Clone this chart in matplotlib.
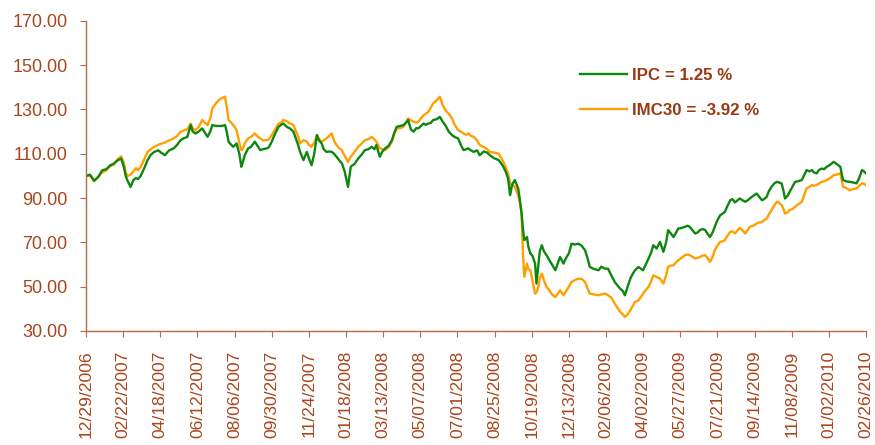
import numpy as np
import pandas as pd
import matplotlib
matplotlib.use("Agg")
import matplotlib.pyplot as plt
import matplotlib.dates as mdates

# días naturales desde el 29/12/2006 y valores base 100
start = "2006-12-29"
days = [0, 6, 12, 18, 24, 30, 36, 41, 47, 52, 56, 59, 62, 66, 70, 74, 77, 81, 87, 91,
        96, 101, 107, 111, 117, 123, 130, 135, 140, 145, 150, 155, 158, 162, 167, 172, 176, 180, 184, 187,
        193, 197, 201, 206, 209, 211, 215, 218, 223, 227, 230, 232, 235, 240, 244, 250, 255, 258, 262, 268,
        271, 275, 280, 285, 289, 292, 298, 302, 307, 309, 314, 317, 322, 327, 330, 334, 338, 342, 345, 349,
        352, 356, 360, 364, 367, 371, 375, 379, 383, 388, 392, 398, 403, 408, 413, 418, 423, 427, 430, 435,
        439, 443, 448, 453, 456, 460, 465, 470, 474, 477, 481, 485, 489, 492, 496, 500, 503, 507, 511, 514,
        519, 524, 528, 532, 537, 542, 546, 551, 555, 559, 563, 566, 570, 574, 579, 583, 589, 594, 598, 604,
        611, 615, 618, 622, 625, 628, 631, 635, 640, 643, 645, 647, 649, 653, 655, 658, 661, 665, 667, 670,
        672, 675, 678, 682, 686, 690, 695, 698, 702, 707, 711, 715, 719, 724, 729, 734, 739, 743, 746, 752,
        759, 763, 769, 773, 778, 783, 787, 791, 795, 798, 802, 806, 809, 813, 818, 822, 825, 829, 833, 837,
        840, 845, 850, 855, 859, 862, 866, 870, 874, 877, 882, 887, 891, 894, 898, 902, 906, 909, 913, 917,
        920, 924, 928, 931, 935, 939, 943, 946, 950, 954, 957, 961, 965, 968, 972, 976, 980, 983, 988, 993,
        997, 1001, 1004, 1008, 1011, 1015, 1019, 1023, 1026, 1030, 1033, 1035, 1039, 1042, 1046, 1050, 1054, 1060, 1063, 1067,
        1071, 1075, 1078, 1082, 1085, 1089, 1093, 1097, 1102, 1107, 1111, 1117, 1121, 1126, 1131, 1136, 1141, 1145, 1149, 1152,
        1155]

ipc = [100, 100.5, 97.8, 99.5, 102.5, 103, 104.8, 105.5, 107, 107.8, 104, 99.7, 97.5, 95.0, 98, 99, 98.5, 100, 104, 107,
       109.5, 110.8, 111.5, 110.5, 109.3, 111.5, 112.4, 114, 116.1, 117, 117.5, 122.9, 120, 119.1, 120, 121.4, 119.5, 117.6, 120, 122.9,
       122.5, 122.5, 122.5, 122.9, 119, 115.4, 114, 113.1, 114.6, 110, 104.1, 106, 109.3, 112.4, 113, 115.4, 113, 111.6, 112, 112.4,
       113, 115.4, 119, 122.1, 123, 123.6, 122, 121.4, 120, 118.4, 114, 110.8, 107.1, 110.8, 108, 104.8, 110, 118.4, 116, 114.6,
       112, 110.8, 111, 110.8, 110, 108.6, 107, 105.6, 102, 95.0, 104.1, 105.5, 107.8, 109.5, 111.6, 112, 113.1, 112, 113.9, 108.6,
       111, 112.4, 113.5, 116.1, 119, 122.1, 122.5, 122.9, 124, 125.2, 121, 119.9, 121.5, 121.4, 122.5, 123.6, 123, 123.6, 124, 125.2,
       125.5, 126.6, 124.5, 122.9, 120, 118.4, 117.5, 116.9, 114, 111.6, 112, 112.4, 111.5, 110.8, 111.5, 109.3, 111, 110.5, 109.3, 108,
       107.1, 105.5, 104.1, 101.5, 98.8, 91.3, 96, 98.1, 94.3, 88, 83.0, 76, 71.0, 72.4, 68, 65, 64, 60.4, 51.4, 60,
       66, 68.7, 66, 64.2, 62, 60, 57.4, 60, 63.4, 60.4, 63, 65, 69.4, 69, 69.4, 68.5, 66.4, 62.5, 58.9, 58,
       57.4, 59, 58.1, 58.1, 55, 52.1, 50.5, 49.1, 48, 46.1, 50, 53.6, 55.5, 57.4, 58.9, 58, 57.4, 60, 62.7, 65.5,
       68.7, 67.2, 70.2, 65.7, 70, 75.5, 74, 72.4, 74.5, 76.2, 76.5, 77, 77.5, 77, 75.5, 74, 74.5, 75.5, 76, 75.5,
       74, 72.4, 74.5, 77, 80, 82.2, 83, 83.7, 86.5, 89, 89.5, 88, 89, 89.8, 89, 88.3, 89, 89.8, 91, 92.0,
       90.5, 89, 89.5, 90.5, 93, 95, 96.5, 97.3, 97, 96.6, 93, 89.8, 91, 92.8, 95, 97.3, 97.5, 98.1, 100, 102.6,
       102, 102.6, 101.5, 101.1, 102.5, 103.3, 103, 104.1, 105, 106.3, 105.5, 104.1, 98.1, 97.5, 97.3, 97, 96.6, 99, 102.6, 102,
       101.1]

imc30 = [100, 100, 97.5, 99.5, 101.5, 102.5, 104.5, 105, 107.5, 108.8, 106, 101.2, 100, 100.5, 102, 103.5, 102.5, 104, 108, 110.8,
         112, 113.1, 114, 114.5, 115, 116, 116.9, 118, 119.9, 120.5, 121, 123.6, 121.5, 120.6, 122, 125.2, 124, 122.9, 126, 130.4,
         133, 134.2, 135, 135.7, 130, 125.2, 124, 122.9, 120.6, 115, 111.6, 112, 114.6, 116.9, 117.5, 119.1, 117.5, 116.9, 116, 116.1,
         116.5, 118.4, 121, 123.6, 124, 125.2, 124.5, 123.6, 123, 121.4, 118, 114.6, 116.1, 115.4, 114, 113.1, 115, 118.4, 116.5, 115.4,
         116, 116.9, 118, 119.1, 116, 113.9, 112.5, 111.6, 109, 106.3, 108.6, 111, 113.1, 114.5, 116.1, 116.5, 117.6, 116.5, 115.4, 112.4,
         112, 111.6, 113, 115.4, 118.5, 121.4, 121.5, 122.1, 124, 125.9, 125, 124.4, 124, 124.4, 126, 127.4, 128, 128.9, 131, 132.7,
         134, 135.7, 132, 129.7, 128, 125.9, 123, 120.6, 120, 119.1, 118.5, 119.1, 118, 117.6, 116, 113.9, 113, 112, 110.8, 110.5,
         110, 108, 106.3, 103.5, 101.1, 96.6, 96, 95.0, 91.3, 87, 83.0, 65, 54.4, 60.4, 58, 57.4, 53, 46.9, 47.5, 50,
         54, 55.9, 53, 49.9, 48.5, 46.5, 45.3, 46.5, 48.4, 46.1, 48, 50, 52.1, 53, 53.6, 53.5, 52.1, 49, 46.9, 46.5,
         46.1, 46.5, 46.9, 46.1, 45, 42.3, 40.5, 38.6, 37.5, 36.3, 37.5, 39.3, 41, 43.1, 43.8, 45.5, 46.9, 48.5, 49.9, 52.5,
         55.1, 54.4, 53.6, 51.4, 55, 58.9, 59.5, 59.7, 61, 61.9, 63, 64.2, 64.5, 64.2, 63.5, 62.7, 63, 63.4, 64, 64.2,
         63, 61.2, 63.5, 66.4, 68.5, 70.2, 70.5, 71, 73, 74.7, 75, 74, 75.5, 76.5, 75.5, 74, 75.5, 77, 77.5, 78.5,
         79, 79.2, 80, 80.7, 82.5, 84.5, 86.5, 88.3, 88, 86.8, 85, 83.0, 83.5, 84.5, 85, 86, 87, 88.3, 91, 94.3,
         95, 95.8, 95.5, 95.8, 96.5, 97.3, 97.5, 98.1, 99, 100.3, 100.5, 101.1, 95, 94.5, 93.5, 94, 94.3, 95.5, 96.6, 96.5,
         95.8]

labels = ["IPC = 1.25 %", "IMC30 = -3.92 %"]
tick_step_days = 55
n_ticks = 22

plt.rcParams['font.family'] = ['Liberation Sans', 'DejaVu Sans']
brown = '#A8451C'
axis_col = '#B86A44'

dates = pd.to_datetime(start) + pd.to_timedelta(days, unit='D')

fig = plt.figure(figsize=(8.75, 4.45), dpi=100)
ax = fig.add_axes([0.0983, 0.2562, 0.8914, 0.6973])

l2, = ax.plot(dates, imc30, color='#FFA000', lw=1.7, label=labels[1])
l1, = ax.plot(dates, ipc, color='#0E870E', lw=1.7, label=labels[0])

ax.set_ylim(30, 170)
ax.set_yticks(np.arange(30, 171, 20))
ax.yaxis.set_major_formatter(matplotlib.ticker.FormatStrFormatter('%.2f'))

ticks = pd.to_datetime(start) + pd.to_timedelta(np.arange(n_ticks) * tick_step_days, unit='D')
ax.set_xlim(ticks[0], ticks[-1])
ax.set_xticks(ticks)
ax.xaxis.set_major_formatter(mdates.DateFormatter('%m/%d/%Y'))

for s in ['top', 'right']:
    ax.spines[s].set_visible(False)
for s in ['left', 'bottom']:
    ax.spines[s].set_color(axis_col)
    ax.spines[s].set_linewidth(1.0)

ax.tick_params(axis='y', colors=axis_col, labelcolor=brown, labelsize=13, length=4.3, pad=9)
ax.tick_params(axis='x', colors=axis_col, labelcolor=brown, labelsize=12.6, length=4.3,
               pad=10, labelrotation=90)

leg = ax.legend(handles=[l1, l2], loc='upper left', bbox_to_anchor=(0.645, 0.882),
                bbox_transform=fig.transFigure, frameon=False, handlelength=2.8,
                handletextpad=0.3, labelspacing=1.2, prop={'weight': 'bold', 'size': 12.2})
for t in leg.get_texts():
    t.set_color('#9A3A12')

fig.savefig('out.png', dpi=100)
